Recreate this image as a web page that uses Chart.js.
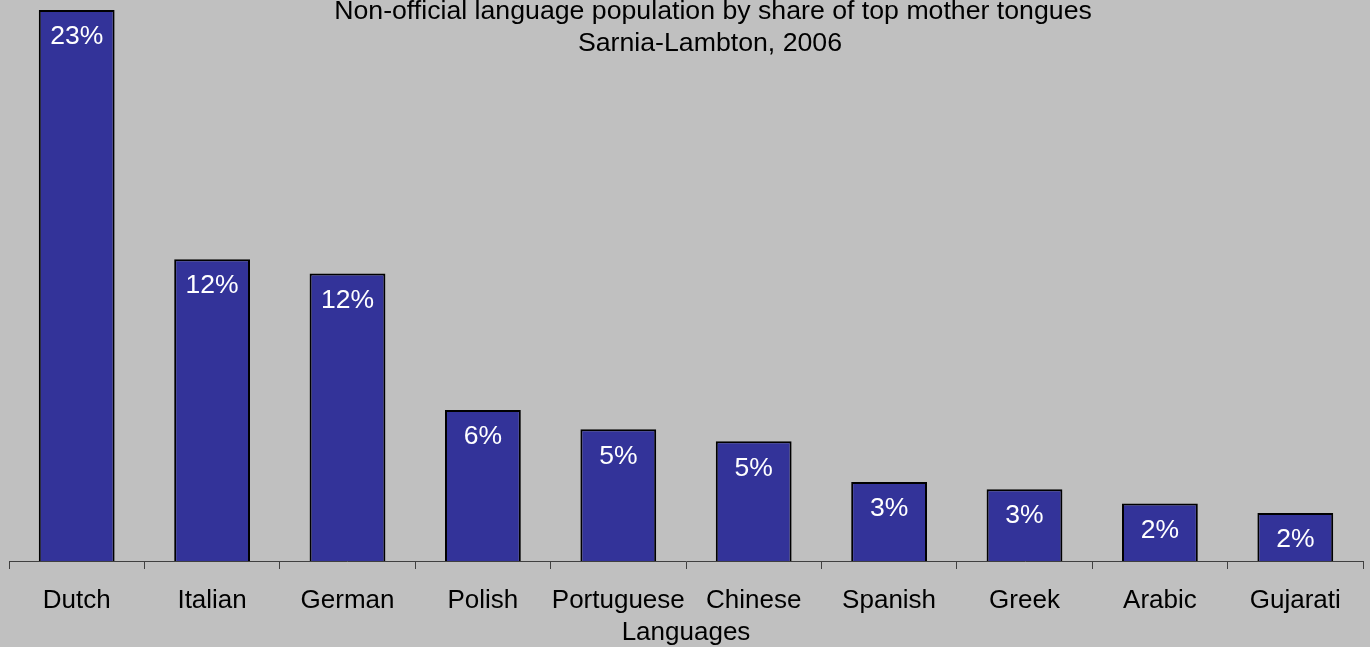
<!DOCTYPE html>
<html>
<head>
<meta charset="utf-8">
<script src="https://cdn.jsdelivr.net/npm/chart.js@4.4.0/dist/chart.umd.min.js"></script>
<style>
  html, body { margin: 0; padding: 0; background: #c0c0c0; }
  #wrap { width: 1370px; height: 647px; position: relative; }
</style>
</head>
<body>
<div id="wrap"><canvas id="chart"></canvas></div>
<script>
/* Non-official language population, Sarnia-Lambton 2006 */
const languages = ['Dutch', 'Italian', 'German', 'Polish', 'Portuguese', 'Chinese', 'Spanish', 'Greek', 'Arabic', 'Gujarati'];
const shares = [23.0, 12.6, 12.0, 6.3, 5.5, 5.0, 3.3, 3.0, 2.4, 2.0];
const titleLines = ['Non-official language population by share of top mother tongues', 'Sarnia-Lambton, 2006'];

const FONT = '"Liberation Sans", Arial, sans-serif';

// titre dessiné par-dessus la zone du graphique (comme l'original)
const titlePlugin = {
    id: 'overTitle',
    afterDraw(chart) {
        const ctx = chart.ctx;
        ctx.save();
        ctx.fillStyle = '#000';
        ctx.font = '26.7px ' + FONT;
        ctx.textAlign = 'center';
        ctx.textBaseline = 'middle';
        ctx.fillText(titleLines[0], 713, 12);
        ctx.fillText(titleLines[1], 710, 44);
        ctx.restore();
    }
};

// étiquettes blanches dans le haut des barres
const valueLabels = {
    id: 'valueLabels',
    afterDatasetsDraw(chart) {
        const ctx = chart.ctx;
        const meta = chart.getDatasetMeta(0);
        ctx.save();
        ctx.fillStyle = '#fff';
        ctx.font = '26.5px ' + FONT;
        ctx.textAlign = 'center';
        ctx.textBaseline = 'middle';
        meta.data.forEach((bar, i) => {
            ctx.fillText(Math.floor(shares[i]) + '%', bar.x, bar.y + 27);
        });
        ctx.restore();
    }
};

new Chart(document.getElementById('chart'), {
    type: 'bar',
    data: {
        labels: languages,
        datasets: [{
            data: shares,
            backgroundColor: '#333399',
            borderColor: '#000',
            borderWidth: 2,
            borderSkipped: 'bottom',
            barPercentage: 0.56,
            categoryPercentage: 1
        }]
    },
    options: {
        responsive: true,
        maintainAspectRatio: false,
        animation: false,
        layout: { padding: { left: 9, right: 7, top: 10, bottom: 1 } },
        plugins: {
            legend: { display: false },
            tooltip: { enabled: false }
        },
        scales: {
            x: {
                grid: {
                    drawOnChartArea: false,
                    drawTicks: true,
                    tickLength: 8,
                    color: '#404040',
                    offset: true
                },
                border: { color: '#404040', width: 1 },
                ticks: {
                    color: '#000',
                    font: { family: FONT, size: 26, lineHeight: 1 },
                    padding: 19,
                    maxRotation: 0,
                    autoSkip: false
                },
                title: {
                    display: true,
                    text: 'Languages',
                    color: '#000',
                    font: { family: FONT, size: 26, lineHeight: 1 },
                    padding: { top: -13, bottom: 0 }
                }
            },
            y: {
                display: false,
                min: 0,
                max: 23
            }
        }
    },
    plugins: [valueLabels, titlePlugin]
});
</script>
</body>
</html>
